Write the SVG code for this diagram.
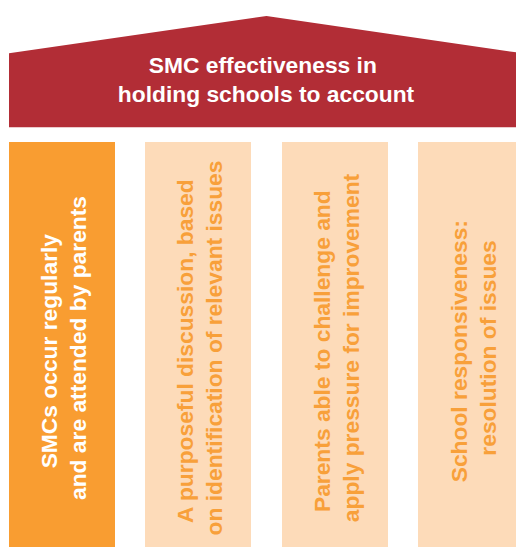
<svg xmlns="http://www.w3.org/2000/svg" width="516" height="547" viewBox="0 0 516 547">
  <style>
    .roof { fill: #B22D36; }
    .pillar-main { fill: #F99D31; }
    .pillar { fill: #FDDBB9; }
    .lbl { font-family: "Liberation Sans", Arial, sans-serif; font-weight: bold; font-size: 22.8px; text-anchor: middle; }
    .light { fill: #FFFFFF; }
    .warm { fill: #F8A03A; }
  </style>
  <rect width="516" height="547" fill="#FFFFFF"/>

  <!-- roof -->
  <g id="roof">
    <polygon class="roof" points="9,53.3 266.5,16 516,52.3 516,127.3 9,127.3"/>
    <text class="lbl light">
      <tspan x="266" y="73">SMC effectiveness in</tspan>
      <tspan x="266" y="101.5">holding schools to account</tspan>
    </text>
  </g>

  <!-- pillars -->
  <g id="pillar-1">
    <rect class="pillar-main" x="9" y="142" width="106" height="405"/>
    <text class="lbl light" transform="translate(62,348) rotate(-90)">
      <tspan x="0" y="-5">SMCs occur regularly</tspan>
      <tspan x="0" y="24">and are attended by parents</tspan>
    </text>
  </g>
  <g id="pillar-2">
    <rect class="pillar" x="145" y="142" width="106" height="405"/>
    <text class="lbl warm" transform="translate(198,348) rotate(-90)">
      <tspan x="0" y="-5">A purposeful discussion, based</tspan>
      <tspan x="0" y="24">on identification of relevant issues</tspan>
    </text>
  </g>
  <g id="pillar-3">
    <rect class="pillar" x="282" y="142" width="106" height="405"/>
    <text class="lbl warm" transform="translate(335,348) rotate(-90)">
      <tspan x="0" y="-5">Parents able to challenge and</tspan>
      <tspan x="0" y="24">apply pressure for improvement</tspan>
    </text>
  </g>
  <g id="pillar-4">
    <rect class="pillar" x="418" y="142" width="106" height="405"/>
    <text class="lbl warm" transform="translate(472,348) rotate(-90)">
      <tspan x="0" y="-5">School responsiveness:</tspan>
      <tspan x="0" y="24">resolution of issues</tspan>
    </text>
  </g>

  <g id="connectors"/>
</svg>
